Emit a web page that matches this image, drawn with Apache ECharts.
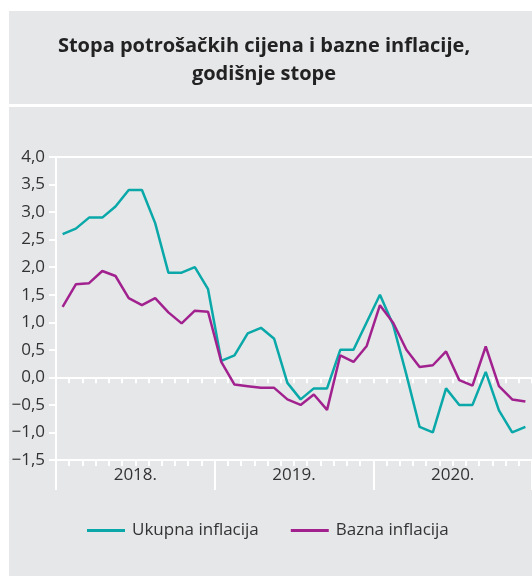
<!DOCTYPE html>
<html>
<head>
<meta charset="utf-8">
<script src="https://cdn.jsdelivr.net/npm/echarts@6/dist/echarts.min.js"></script>
<style>
html,body{margin:0;padding:0;background:#ffffff;}
#chart{width:532px;height:576px;}
</style>
</head>
<body>
<div id="chart"></div>
<script>
// ---- data ----
var years = ['2018.', '2019.', '2020.'];
var months = [];
for (var yi = 0; yi < years.length; yi++) {
  for (var m = 1; m <= 12; m++) months.push(years[yi] + ' ' + m);
}
var ukupna = [
  2.6, 2.7, 2.9, 2.9, 3.1, 3.4, 3.4, 2.8, 1.9, 1.9, 2.0, 1.6,
  0.3, 0.4, 0.8, 0.9, 0.7, -0.1, -0.4, -0.2, -0.2, 0.5, 0.5, 1.0,
  1.5, 0.95, 0.05, -0.9, -1.0, -0.2, -0.5, -0.5, 0.1, -0.6, -1.0, -0.9
];
var bazna = [
  1.28, 1.69, 1.71, 1.93, 1.84, 1.44, 1.31, 1.44, 1.18, 0.98, 1.21, 1.19,
  0.28, -0.13, -0.16, -0.19, -0.19, -0.4, -0.5, -0.31, -0.59, 0.4, 0.28, 0.57,
  1.31, 0.99, 0.5, 0.19, 0.22, 0.47, -0.05, -0.15, 0.56, -0.16, -0.4, -0.44
];
var seriesNames = ['Ukupna inflacija', 'Bazna inflacija'];
var titleText = 'Stopa potrošačkih cijena i bazne inflacije,\ngodišnje stope';

var TEAL = '#0aa8a9';
var PURPLE = '#a1228f';
var BG = '#e6e7e9';
var TXT = '#333333';
var FONT = '"Open Sans", "Noto Sans", sans-serif';

function fmt(v) {
  var s = Math.abs(v).toFixed(1).replace('.', ',');
  return (v < 0 ? '\u2212' : '') + s;
}

var chart = echarts.init(document.getElementById('chart'), null, {renderer: 'canvas'});
chart.setOption({
  animation: false,
  backgroundColor: '#ffffff',
  graphic: [
    {type: 'rect', z: -10, shape: {x: 9, y: 11, width: 530, height: 93}, style: {fill: BG}},
    {type: 'rect', z: -10, shape: {x: 9, y: 107, width: 530, height: 480}, style: {fill: BG}},
    {
      type: 'text', z: 10, x: 264, y: 32,
      style: {
        text: titleText,
        textAlign: 'center',
        textVerticalAlign: 'top',
        fontFamily: FONT,
        fontWeight: 'bold',
        fontSize: 20,
        lineHeight: 28,
        fill: '#222222'
      }
    }
  ],
  legend: {
    left: 82,
    top: 517,
    icon: 'rect',
    itemWidth: 38,
    itemHeight: 3,
    itemGap: 32,
    textStyle: {fontFamily: FONT, fontSize: 17, color: TXT, padding: [0, 0, 0, 2]},
    data: seriesNames
  },
  grid: {left: 56, top: 157, width: 478, height: 303},
  xAxis: [
    {
      type: 'category',
      data: months,
      position: 'bottom',
      boundaryGap: true,
      axisLine: {onZero: false, lineStyle: {color: '#ffffff', width: 2}},
      axisTick: {show: true, interval: 0, length: 6, lineStyle: {color: '#ffffff', width: 2}},
      axisLabel: {show: false},
      splitLine: {show: false}
    },
    {
      type: 'category',
      data: years,
      position: 'bottom',
      boundaryGap: true,
      axisLine: {show: false, onZero: false},
      axisTick: {show: true, interval: 0, length: 30, lineStyle: {color: '#ffffff', width: 2}},
      axisLabel: {show: true, interval: 0, margin: 7, fontFamily: FONT, fontSize: 17, color: TXT},
      splitLine: {show: false}
    },
    {
      type: 'category',
      data: months,
      position: 'top',
      boundaryGap: true,
      axisLine: {onZero: true, lineStyle: {color: '#ffffff', width: 2}},
      axisTick: {show: true, inside: true, interval: 0, length: 6, lineStyle: {color: '#ffffff', width: 2}},
      axisLabel: {show: false},
      splitLine: {show: false}
    }
  ],
  yAxis: {
    type: 'value',
    min: -1.5,
    max: 4,
    interval: 0.5,
    axisLine: {show: true, lineStyle: {color: '#ffffff', width: 2}},
    axisTick: {show: true, length: 7, lineStyle: {color: '#ffffff', width: 2}},
    axisLabel: {formatter: fmt, fontFamily: FONT, fontSize: 17, color: TXT, margin: 11},
    splitLine: {show: false}
  },
  series: [
    {
      name: seriesNames[0],
      type: 'line',
      data: ukupna,
      xAxisIndex: 0,
      showSymbol: false,
      symbol: 'none',
      lineStyle: {color: TEAL, width: 2.5},
      itemStyle: {color: TEAL},
      markLine: {
        silent: true,
        symbol: 'none',
        label: {show: false},
        lineStyle: {color: '#ffffff', width: 2, type: 'solid'},
        data: [{yAxis: 4}]
      },
      z: 3
    },
    {
      name: seriesNames[1],
      type: 'line',
      data: bazna,
      xAxisIndex: 0,
      showSymbol: false,
      symbol: 'none',
      lineStyle: {color: PURPLE, width: 2.5},
      itemStyle: {color: PURPLE},
      z: 4
    }
  ]
});
</script>
</body>
</html>
